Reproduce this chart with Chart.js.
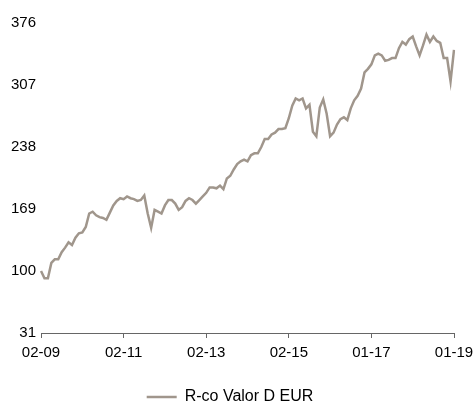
<!DOCTYPE html>
<html>
<head>
<meta charset="utf-8">
<script src="https://cdn.jsdelivr.net/npm/chart.js@4"></script>
<style>
  body { margin: 0; background: #fff; }
</style>
</head>
<body>
<canvas id="grafico" width="474" height="403"></canvas>
<script>
// valores mensuales, feb 2009 - ene 2019
const valores = [
  100, 92, 92, 109, 113, 113, 121, 126, 132, 129,
  137, 142, 143, 149, 164, 166, 162, 160, 159, 157,
  165, 173, 178, 181, 180, 183, 181, 180, 178, 179,
  184, 164, 148, 168, 166, 164, 173, 179, 179, 175,
  168, 171, 178, 181, 179, 175, 179, 183, 187, 193,
  193, 192, 195, 191, 203, 206, 213, 219, 222, 224,
  222, 229, 231, 231, 238, 247, 247, 252, 254, 258,
  258, 259, 270, 284, 292, 290, 292, 281, 285, 255,
  250, 282, 291, 275, 250, 254, 263, 269, 271, 268,
  281, 290, 295, 303, 321, 325, 330, 340, 342, 340,
  334, 335, 337, 337, 348, 355, 352, 358, 361, 350,
  340, 351, 363, 355, 361, 356, 354, 337, 337, 311,
  346
];

const tickIndices = [0, 24, 48, 72, 96, 120];
const tickLabels = ['02-09', '02-11', '02-13', '02-15', '01-17', '01-19'];
const yTicks = [31, 100, 169, 238, 307, 376];
const serie = 'R-co Valor D EUR';

const categorias = valores.map((v, i) => i);

const colorLinea = '#a0968c';
const colorEje = '#666666';
const fuente = { family: 'Liberation Sans, Arial, sans-serif', size: 15 };

new Chart(document.getElementById('grafico'), {
  type: 'line',
  data: {
    labels: categorias,
    datasets: [{
      label: serie,
      data: valores,
      borderColor: colorLinea,
      backgroundColor: colorLinea,
      borderWidth: 2.5,
      pointRadius: 0,
      pointStyle: 'line',
      tension: 0,
      fill: false
    }]
  },
  options: {
    responsive: false,
    animation: false,
    layout: { padding: { left: 6, right: 20, top: 23, bottom: -12 } },
    plugins: {
      tooltip: { enabled: false },
      legend: {
        position: 'bottom',
        labels: {
          usePointStyle: true,
          pointStyleWidth: 30,
          color: '#000',
          font: { family: fuente.family, size: 16 },
          padding: 0
        }
      }
    },
    scales: {
      x: {
        type: 'category',
        grid: { display: true, drawOnChartArea: false, drawTicks: true, tickLength: 5, color: colorEje },
        border: { display: true, color: colorEje, width: 1 },
        afterFit: axis => {
          axis.height = 56;
          axis.paddingLeft = 0;
          axis.paddingRight = 0;
        },
        ticks: {
          autoSkip: false,
          maxRotation: 0,
          padding: 6,
          color: '#000',
          font: fuente,
          callback: (val, idx) => {
            const k = tickIndices.indexOf(idx);
            return k >= 0 ? tickLabels[k] : null;
          }
        }
      },
      y: {
        min: 31,
        max: 376,
        grid: { display: false, drawTicks: false },
        border: { display: false },
        afterBuildTicks: axis => { axis.ticks = yTicks.map(v => ({ value: v })); },
        ticks: { padding: 5, color: '#000', font: fuente }
      }
    }
  }
});
</script>
</body>
</html>
